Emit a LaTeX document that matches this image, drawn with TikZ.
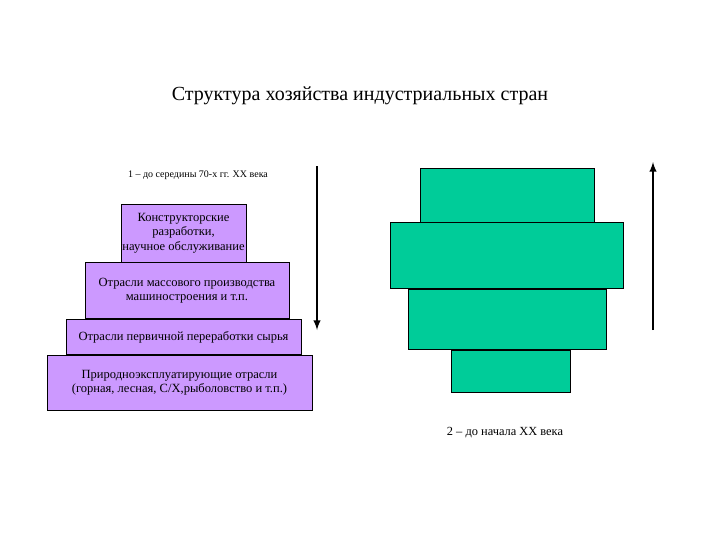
\documentclass[tikz,border=0pt]{standalone}
\usepackage{fontspec}
\setmainfont{Liberation Serif}
\usetikzlibrary{positioning}
\begin{document}
\begin{tikzpicture}
[x=0.75pt,y=-0.75pt,
 lvl/.style={draw,line width=0.6pt,fill=lilac,inner sep=0.5pt,align=center,
   font=\fontsize{9.4}{10.8}\selectfont},
 blk/.style={draw,line width=0.6pt,fill=mint},
 trend/.style={line width=1.5pt,-latex}]
\definecolor{lilac}{RGB}{204,153,255}
\definecolor{mint}{RGB}{0,204,153}
\useasboundingbox (0,0) rectangle (720,540);
\node (title) at (360,96) {\fontsize{15}{18}\selectfont Структура хозяйства индустриальных стран};
% 1 - left pyramid
\node (cap1) at (198,175) {\fontsize{7.5}{9}\selectfont 1 -- до середины 70-х гг. ХХ века};
\node[lvl,minimum width=93.75pt,minimum height=43.5pt] (p1) at (183.5,233)
  {Конструкторские\\разработки,\\научное обслуживание};
\node[lvl,minimum width=153pt,minimum height=42pt,below=0pt of p1,xshift=2.6pt] (p2)
  {Отрасли массового производства\\машиностроения и т.п.};
\node[lvl,minimum width=176.25pt,minimum height=26.25pt,below=0pt of p2,xshift=-2.6pt] (p3)
  {Отрасли первичной переработки сырья};
\node[lvl,minimum width=198.75pt,minimum height=41.25pt,below=0pt of p3,xshift=-3pt] (p4)
  {Природноэксплуатирующие отрасли\\(горная, лесная, С/Х,рыболовство и т.п.)};
\coordinate (a1) at (317,166);
\coordinate (a2) at (317,330);
\draw[trend] (a1) -- (a2);
% 2 - right figure
\node[blk,minimum width=130.5pt,minimum height=40.5pt] (q1) at (507,195) {};
\node[blk,minimum width=174.75pt,minimum height=49.5pt,below=0pt of q1] (q2) {};
\node[blk,minimum width=148.5pt,minimum height=45pt,below=0pt of q2] (q3) {};
\node[blk,minimum width=89.25pt,minimum height=31.5pt,below=0pt of q3,xshift=2.6pt] (q4) {};
\coordinate (b1) at (653,330);
\coordinate (b2) at (653,162);
\draw[trend] (b1) -- (b2);
\node (cap2) at (505,433) {\fontsize{9.3}{11}\selectfont 2 -- до начала ХХ века};
\end{tikzpicture}
\end{document}
